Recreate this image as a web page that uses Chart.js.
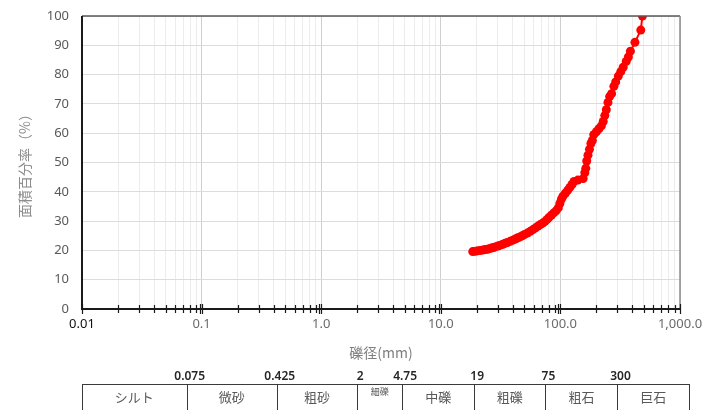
<!DOCTYPE html>
<html>
<head>
<meta charset="utf-8">
<script src="https://cdn.jsdelivr.net/npm/chart.js@4"></script>
<style>
  html, body { margin: 0; padding: 0; background: #fff; }
  #wrap { width: 704px; height: 410px; }
</style>
</head>
<body>
<div id="wrap"><canvas id="grading"></canvas></div>
<script>
// 粒径加積曲線 data
const diameters = [18.5, 19.5, 20.5, 21.5, 22.5, 23.5, 24.5, 25.5, 26.5, 27.5, 28.5, 30, 31.5, 33, 34.5, 36, 38, 40, 42, 44,
  46, 48, 50, 53, 56, 59, 62, 65, 68, 71, 74, 77, 80, 84, 88, 92, 96, 99, 102, 105, 110, 115, 120, 125, 130, 140, 155,
  160, 163, 166, 170, 175, 180, 185, 190, 200, 210, 220, 228, 235, 242, 250, 258, 268, 280, 290, 305, 320, 335, 355,
  370, 385, 420, 470, 485];
const percents = [19.6, 19.7, 19.9, 20.0, 20.1, 20.3, 20.4, 20.6, 20.8, 21.0, 21.2, 21.5, 21.8, 22.1, 22.4, 22.7, 23.1, 23.5, 23.9, 24.3,
  24.6, 25.0, 25.4, 25.9, 26.5, 27.1, 27.7, 28.3, 28.8, 29.3, 29.8, 30.5, 31.2, 32.0, 32.8, 33.5, 34.5, 36.0, 37.5, 38.5, 39.5, 40.5, 41.5, 42.5, 43.5, 44.0, 44.5,
  46.5, 48.0, 50.5, 52.5, 54.5, 56.5, 57.5, 59.5, 60.5, 61.5, 62.5, 64.0, 66.0, 68.0, 70.5, 72.5, 73.5, 76.0, 77.5, 79.5, 81.0, 82.5, 84.5,
  86.0, 88.0, 91.0, 95.2, 100];

const xTickValues = [0.01, 0.1, 1, 10, 100, 1000];
const xTickLabels = ['0.01', '0.1', '1.0', '10.0', '100.0', '1,000.0'];
const minorSteps = [2, 3, 4, 5, 6, 7, 8, 9];

// 土質区分 table under the chart
const classBounds = [0.075, 0.425, 2, 4.75, 19, 75, 300];
const boundLabels = ['0.075', '0.425', '2', '4.75', '19', '75', '300'];
const classNames = ['シルト', '微砂', '粗砂', '細礫', '中礫', '粗礫', '粗石', '巨石'];

const JP = '"Noto Sans CJK JP", "Noto Sans", sans-serif';
const NUM = '"Noto Sans", "Open Sans", sans-serif';

const isDecade = (v) => xTickValues.some(d => Math.abs(v - d) / d < 1e-6);

const axisPlugin = {
  id: 'axisDecor',
  afterDraw(chart) {
    const { ctx, chartArea: a, scales: { x } } = chart;
    ctx.save();
    // frame
    ctx.lineWidth = 1.5;
    ctx.strokeStyle = '#595959';
    ctx.beginPath(); ctx.moveTo(a.left, a.top); ctx.lineTo(a.right, a.top); ctx.stroke();
    ctx.strokeStyle = '#8c8c8c';
    ctx.beginPath(); ctx.moveTo(a.right, a.top); ctx.lineTo(a.right, a.bottom); ctx.stroke();
    ctx.strokeStyle = '#1a1a1a';
    ctx.lineWidth = 2;
    ctx.beginPath(); ctx.moveTo(a.left, a.top); ctx.lineTo(a.left, a.bottom); ctx.lineTo(a.right, a.bottom); ctx.stroke();

    // cross tick marks on the x axis
    ctx.lineWidth = 1.2;
    x.ticks.forEach(t => {
      const px = Math.round(x.getPixelForValue(t.value)) + 0.5;
      const big = isDecade(t.value);
      ctx.beginPath();
      ctx.moveTo(px, a.bottom - (big ? 5 : 4));
      ctx.lineTo(px, a.bottom + (big ? 5 : 4));
      ctx.stroke();
      if (big && t.value > 0.01 && t.value < 1000) {
        ctx.beginPath();
        ctx.moveTo(px - 2, a.bottom - 5);
        ctx.lineTo(px - 2, a.bottom + 5);
        ctx.stroke();
      }
    });

    // classification table
    const top = 384, bottom = 430;
    const left = a.left, right = a.right + 9;
    const edges = [left, ...classBounds.map(v => x.getPixelForValue(v)), right];
    ctx.strokeStyle = '#3a3a3a';
    ctx.lineWidth = 1;
    ctx.strokeRect(left + 0.5, top + 0.5, right - left, bottom - top);
    classBounds.forEach(v => {
      const px = Math.round(x.getPixelForValue(v)) + 0.5;
      ctx.beginPath(); ctx.moveTo(px, top); ctx.lineTo(px, bottom); ctx.stroke();
    });

    ctx.textAlign = 'center';
    ctx.textBaseline = 'middle';
    ctx.fillStyle = '#262626';
    ctx.font = '600 12px ' + NUM;
    classBounds.forEach((v, i) => {
      ctx.fillText(boundLabels[i], x.getPixelForValue(v) + 3, 377);
    });

    ctx.fillStyle = '#595959';
    classNames.forEach((name, i) => {
      const cx = (edges[i] + edges[i + 1]) / 2;
      if (name === '細礫') {
        ctx.font = '9px ' + JP;
        ctx.fillText(name, cx, 392);
      } else {
        ctx.font = '13px ' + JP;
        ctx.fillText(name, cx, 397);
      }
    });
    ctx.restore();
  }
};

new Chart(document.getElementById('grading'), {
  type: 'line',
  data: {
    datasets: [{
      data: diameters.map((d, i) => ({ x: d, y: percents[i] })),
      borderColor: '#ff0000',
      backgroundColor: '#ff0000',
      borderWidth: 2,
      pointRadius: 4.5,
      pointBorderWidth: 0,
      tension: 0
    }]
  },
  options: {
    responsive: true,
    maintainAspectRatio: false,
    animation: false,
    layout: { padding: { top: 16, right: 24, left: 0, bottom: 0 } },
    plugins: { legend: { display: false }, tooltip: { enabled: false } },
    scales: {
      x: {
        type: 'logarithmic',
        min: 0.01,
        max: 1000,
        afterBuildTicks: (scale) => {
          const ticks = [];
          xTickValues.forEach((d, i) => {
            ticks.push({ value: d });
            if (i < xTickValues.length - 1) minorSteps.forEach(m => ticks.push({ value: d * m }));
          });
          scale.ticks = ticks;
        },
        afterFit: (scale) => {
          scale.height = 101;
          scale.paddingLeft = 0;
          scale.paddingRight = 0;
        },
        border: { display: false },
        grid: {
          drawTicks: false,
          color: (c) => (c.tick && isDecade(c.tick.value)) ? '#cfcfcf' : '#ececec',
          lineWidth: 1
        },
        ticks: {
          autoSkip: false,
          maxRotation: 0,
          padding: 7,
          font: { family: NUM, size: 13 },
          color: (c) => c.tick && c.tick.value === 0.01 ? '#111' : '#6b6b6b',
          callback: (v) => {
            const i = xTickValues.findIndex(d => Math.abs(v - d) / d < 1e-6);
            return i >= 0 ? xTickLabels[i] : '';
          }
        },
        title: {
          display: true,
          text: '礫径(mm)',
          color: '#7f7f7f',
          font: { family: JP, size: 14 },
          padding: { top: 4, bottom: 49 }
        }
      },
      y: {
        min: 0,
        max: 100,
        afterFit: (scale) => {
          scale.width = 82;
          scale.paddingTop = 0;
          scale.paddingBottom = 0;
        },
        border: { display: false },
        grid: { drawTicks: false, color: '#dcdcdc' },
        ticks: {
          stepSize: 10,
          padding: 13,
          font: { family: NUM, size: 13 },
          color: '#595959'
        },
        title: {
          display: true,
          text: '面積百分率（%）',
          color: '#8c8c8c',
          font: { family: JP, size: 14 },
          padding: { top: 16, bottom: 0 }
        }
      }
    }
  },
  plugins: [axisPlugin]
});
</script>
</body>
</html>
